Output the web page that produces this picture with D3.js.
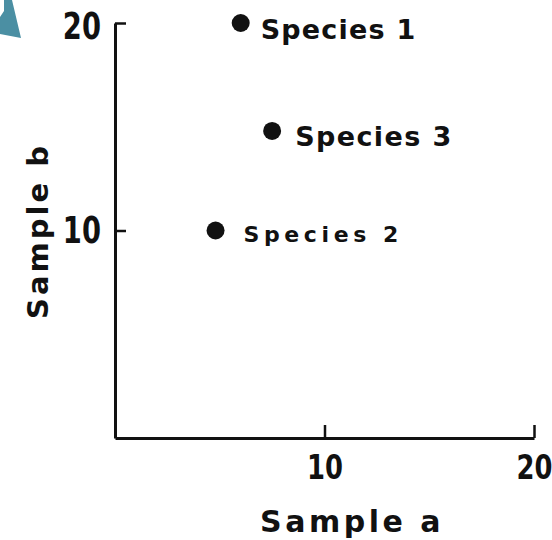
<html>
<head>
  <script src="https://cdn.jsdelivr.net/npm/d3@7/dist/d3.min.js"></script>
</head>
<style>
  body { margin: 0; background: #fff; }
  svg { display: block; }
  text { font-family: "DejaVu Sans", sans-serif; font-weight: bold; fill: #111; }
</style>
<body>
  <svg width="552" height="540" id="chart"></svg>

  <script>
    // data
    var species = ['Species 1', 'Species 2', 'Species 3'];
    var sampleA = [6, 4.8, 7.5];
    var sampleB = [20, 10, 14.8];
    var xTicks = [10, 20];
    var yTicks = [10, 20];

    // label placement relative to each dot (dx, dy, font size, letter spacing)
    var labelLayout = [
      [20, 16, 27, 1.2],
      [28, 11, 22, 4.6],
      [23, 15, 27, 1.4]
    ];

    var svg = d3.select('#chart');

    var x = d3.scaleLinear().domain([0, 20]).range([115, 534]);
    var y = d3.scaleLinear().domain([0, 20]).range([438, 23]);

    // teal corner mark
    svg.append('path')
      .attr('d', 'M0,17L4,11L4,0L12,0L21,38L0,34Z')
      .attr('fill', '#4b8fa3');

    //x axis
    var gx = svg.append('g')
      .attr('transform', 'translate(0,' + y(0) + ')')
      .call(d3.axisBottom(x).tickValues(xTicks).tickSizeInner(-13).tickSizeOuter(0).tickPadding(17).tickFormat(d3.format('d')));
    gx.select('.domain').attr('stroke', '#111').attr('stroke-width', 3);
    gx.selectAll('.tick line').attr('stroke', '#111').attr('stroke-width', 2.5);
    gx.selectAll('.tick text')
      .attr('font-size', 34)
      .attr('fill', '#111')
      .attr('transform', 'scale(0.76,1)');

    //y axis
    var gy = svg.append('g')
      .attr('transform', 'translate(' + x(0) + ',0)')
      .call(d3.axisLeft(y).tickValues(yTicks).tickSizeInner(-11).tickSizeOuter(0).tickPadding(19).tickFormat(d3.format('d')));
    gy.select('.domain').attr('stroke', '#111').attr('stroke-width', 3);
    gy.selectAll('.tick line').attr('stroke', '#111').attr('stroke-width', 2.5);
    gy.selectAll('.tick text')
      .attr('font-size', 37)
      .attr('fill', '#111')
      .attr('transform', 'scale(0.74,1)');
    gy.selectAll('.tick text').filter(function (d) { return d == 20; }).attr('dy', '0.42em');

    svg.selectAll('.tick text').attr('font-family', '"DejaVu Sans", sans-serif').attr('font-weight', 'bold');

    //points
    svg.selectAll('circle')
      .data(species)
      .enter()
      .append('circle')
      .attr('cx', function (d, i) { return x(sampleA[i]); })
      .attr('cy', function (d, i) { return y(sampleB[i]); })
      .attr('r', 9)
      .attr('fill', '#111');

    svg.selectAll('text.label')
      .data(species)
      .enter()
      .append('text')
      .attr('class', 'label')
      .attr('x', function (d, i) { return x(sampleA[i]) + labelLayout[i][0]; })
      .attr('y', function (d, i) { return y(sampleB[i]) + labelLayout[i][1]; })
      .attr('font-size', function (d, i) { return labelLayout[i][2]; })
      .attr('letter-spacing', function (d, i) { return labelLayout[i][3]; })
      .text(function (d) { return d; });

    //axis titles
    svg.append('text')
      .attr('x', 352)
      .attr('y', 532)
      .attr('text-anchor', 'middle')
      .attr('font-size', 30)
      .attr('letter-spacing', 3.5)
      .text('Sample a');

    svg.append('text')
      .attr('transform', 'translate(48,231) rotate(-90)')
      .attr('text-anchor', 'middle')
      .attr('font-size', 29)
      .attr('letter-spacing', 3)
      .text('Sample b');
  </script>
</body>
</html>
